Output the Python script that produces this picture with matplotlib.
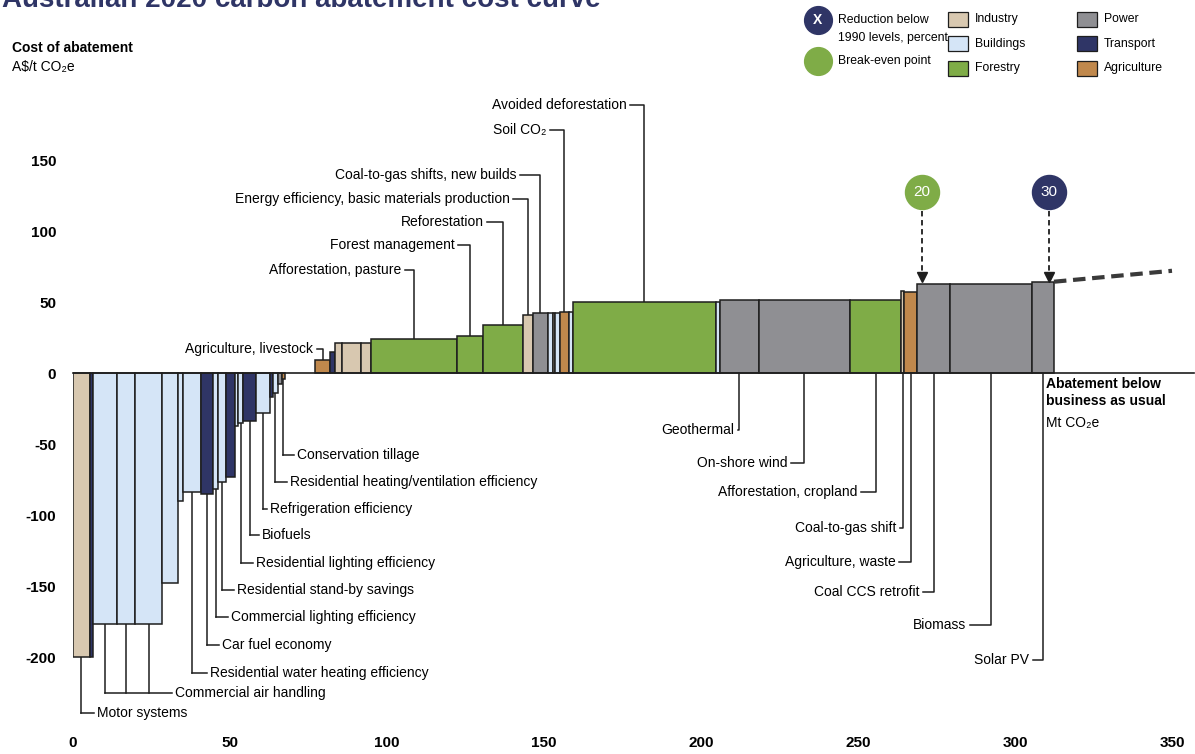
import numpy as np
import matplotlib
matplotlib.use('Agg')
import matplotlib.pyplot as plt
from matplotlib.patches import Rectangle

plt.rcParams['font.family'] = ['Liberation Sans Narrow', 'Liberation Sans', 'DejaVu Sans']
plt.rcParams['axes.unicode_minus'] = False

# sector colours
colors = {'Industry': '#d8c8b0', 'Buildings': '#d5e5f7', 'Forestry': '#7fac47',
          'Power': '#8f8f93', 'Transport': '#2f3566', 'Agriculture': '#c0884c'}

# abatement levers, left to right (width in Mt CO2e, cost in A$/t CO2e)
names = ['Motor systems', '', 'Commercial air handling', 'Commercial air handling', 'Commercial air handling',
         '', '', 'Residential water heating efficiency', 'Car fuel economy', 'Commercial lighting efficiency',
         'Residential stand-by savings', '', '', 'Residential lighting efficiency', 'Biofuels',
         'Refrigeration efficiency', '', 'Residential heating/ventilation efficiency', '', 'Conservation tillage',
         '',
         'Agriculture, livestock', '', '', '', '', 'Afforestation, pasture', 'Forest management',
         'Reforestation', 'Energy efficiency, basic materials production', 'Coal-to-gas shifts, new builds',
         '', '', '', 'Soil CO\u2082', '', 'Avoided deforestation', '', 'Geothermal', 'On-shore wind',
         'Afforestation, cropland', 'Coal-to-gas shift', 'Agriculture, waste', 'Coal CCS retrofit',
         'Biomass', 'Solar PV']
sectors = ['Industry', 'Transport', 'Buildings', 'Buildings', 'Buildings',
           'Buildings', 'Buildings', 'Buildings', 'Transport', 'Buildings',
           'Buildings', 'Transport', 'Buildings', 'Buildings', 'Transport',
           'Buildings', 'Transport', 'Buildings', 'Power', 'Agriculture',
           '',
           'Agriculture', 'Transport', 'Industry', 'Industry', 'Industry', 'Forestry', 'Forestry',
           'Forestry', 'Industry', 'Power',
           'Buildings', 'Industry', 'Buildings', 'Agriculture', 'Buildings', 'Forestry', 'Buildings',
           'Power', 'Power',
           'Forestry', 'Industry', 'Agriculture', 'Power',
           'Power', 'Power']
widths = [5.4, 1.05, 7.6, 5.65, 8.8,
          4.95, 1.6, 5.85, 3.7, 1.6,
          2.65, 2.65, 1.05, 1.6, 4.25,
          4.25, 1.05, 1.5, 1.3, 1.0,
          9.7,
          4.75, 1.4, 2.45, 5.8, 3.4, 27.25, 8.25,
          12.95, 2.95, 4.8,
          1.6, 0.85, 1.3, 2.95, 1.3, 45.6, 1.3,
          12.3, 29.1,
          16.2, 1.05, 4.0, 10.6,
          26.0, 7.15]
costs = [-200, -200, -177, -177, -177,
         -148, -90, -84, -85, -82,
         -77, -73, -37, -35, -34,
         -28, -17, -14, -8, -4,
         0,
         9, 15, 21, 21, 21, 24, 26,
         34, 41, 42.5,
         42, 42, 42, 43, 43, 50, 50,
         51.5, 51.5,
         51.5, 58, 57, 63,
         63, 64]

# reduction markers
marker_labels = ['20', '30']
marker_x = [270.4, 310.8]
marker_colors = ['#7fac47', '#2f3566']
# extension of the curve beyond the chart
trend_x = [312.4, 350]
trend_y = [64.3, 72]

# label layout (data coords): top = text right end above bars, left = text start below, right = text end below
label_top = {'Agriculture, livestock': (76.4, 17), 'Afforestation, pasture': (104.4, 72.5),
             'Forest management': (121.5, 90), 'Reforestation': (130.8, 106.3),
             'Energy efficiency, basic materials production': (139.0, 122.5),
             'Coal-to-gas shifts, new builds': (141.3, 139.4), 'Soil CO\u2082': (150.8, 171),
             'Avoided deforestation': (176.3, 188.7)}
label_left = {'Conservation tillage': (71.3, -57.7),
              'Residential heating/ventilation efficiency': (69.0, -76.8),
              'Refrigeration efficiency': (62.7, -95.8), 'Biofuels': (60.1, -114.1),
              'Residential lighting efficiency': (58.2, -133.8), 'Residential stand-by savings': (52.2, -152.8),
              'Commercial lighting efficiency': (50.3, -171.8), 'Car fuel economy': (47.4, -191.5),
              'Residential water heating efficiency': (43.6, -211.3), 'Commercial air handling': (32.5, -225.4),
              'Motor systems': (7.6, -239.4)}
label_right = {'Geothermal': (210.6, -40.1), 'On-shore wind': (227.5, -63.4),
               'Afforestation, cropland': (249.8, -83.8), 'Coal-to-gas shift': (262.2, -109.2),
               'Agriculture, waste': (261.9, -133.1), 'Coal CCS retrofit': (269.5, -154.2),
               'Biomass': (284.4, -177.5), 'Solar PV': (304.5, -202.1)}

fig = plt.figure(figsize=(11.95, 7.54), dpi=100)
ax = fig.add_axes([73 / 1195, 26 / 754, 1099 / 1195, 633 / 754])
ax.set_xlim(0, 350)
ax.set_ylim(-250, 195.8)
for s in ax.spines.values():
    s.set_visible(False)

lefts = np.concatenate([[0], np.cumsum(widths)[:-1]])
centers = lefts + np.array(widths) / 2
for l, w, c, sec in zip(lefts, widths, costs, sectors):
    if c == 0:
        continue
    ax.bar(l, c, w, align='edge', color=colors[sec], edgecolor='#1e1e1e', linewidth=1.1, zorder=3)

ax.axhline(0, xmin=0, xmax=1.02, color='#1e1e1e', lw=1.2, zorder=4, clip_on=False)

lk = dict(color='#1e1e1e', lw=1.1, zorder=2, clip_on=False)
fs = 10
for name, (tx, ty) in label_top.items():
    i = names.index(name)
    ax.plot([tx + 1.2, centers[i], centers[i]], [ty, ty, costs[i]], **lk)
    ax.text(tx, ty, name, ha='right', va='center', fontsize=fs)
for name, (tx, ty) in label_left.items():
    idx = [i for i, n in enumerate(names) if n == name]
    for i in idx:
        ax.plot([centers[i], centers[i]], [costs[i], ty], **lk)
    ax.plot([centers[idx[0]], tx - 1.0], [ty, ty], **lk)
    ax.text(tx, ty, name, ha='left', va='center', fontsize=fs)
for name, (tx, ty) in label_right.items():
    i = names.index(name)
    ax.plot([centers[i], centers[i], tx + 1.2], [0, ty, ty], **lk)
    ax.text(tx, ty, name, ha='right', va='center', fontsize=fs)

# break-even / reduction markers
for lab, mx, mc in zip(marker_labels, marker_x, marker_colors):
    ax.scatter([mx], [127.5], s=600, color=mc, zorder=5, clip_on=False)
    ax.text(mx, 127.5, lab, color='white', ha='center', va='center', fontsize=11, zorder=6)
    ax.plot([mx, mx], [114, 70], color='#1e1e1e', lw=1.3, ls=(0, (3, 2)), zorder=5)
    ax.plot([mx], [67.5], marker='v', color='#1e1e1e', markersize=7, zorder=5)

ax.plot(trend_x, trend_y, color='#3a3a3a', lw=3, ls=(0, (3, 1.6)), zorder=3, clip_on=False)

ax.set_xticks(np.arange(0, 351, 50))
ax.set_yticks(np.arange(-200, 151, 50))
ax.tick_params(length=0, labelsize=11)
ax.tick_params(axis='x', pad=6)
ax.tick_params(axis='y', pad=12)
for t in ax.get_xticklabels() + ax.get_yticklabels():
    t.set_fontweight('bold')

ax.text(310, -3, 'Abatement below\nbusiness as usual', ha='left', va='top', fontsize=10,
        fontweight='bold', linespacing=1.25)
ax.text(310, -30, 'Mt CO\u2082e', ha='left', va='top', fontsize=10)

# header and legend in pixel coordinates
ov = fig.add_axes([0, 0, 1, 1], zorder=-1)
ov.set_xlim(0, 1195)
ov.set_ylim(754, 0)
ov.axis('off')
ov.text(2, 7, 'Australian 2020 carbon abatement cost curve', color='#2f3566', fontsize=20,
        fontweight='bold', ha='left', va='baseline')
ov.text(12, 48, 'Cost of abatement', fontsize=10, fontweight='bold', va='center')
ov.text(12, 67, 'A$/t CO\u2082e', fontsize=10, va='center')

lfs = 8.8
ov.scatter([818], [20], s=400, color='#2f3566')
ov.text(818, 20, 'X', color='white', ha='center', va='center', fontsize=10, fontweight='bold')
ov.text(838, 20, 'Reduction below', fontsize=lfs, va='center')
ov.text(838, 38, '1990 levels, percent', fontsize=lfs, va='center')
ov.scatter([818], [61], s=400, color='#7fac47')
ov.text(838, 61, 'Break-even point', fontsize=lfs, va='center')
legend_cols = [['Industry', 'Buildings', 'Forestry'], ['Power', 'Transport', 'Agriculture']]
for col, lx in zip(legend_cols, [948, 1077]):
    for j, sec in enumerate(col):
        yy = 19 + 24.5 * j
        ov.add_patch(Rectangle((lx, yy - 7.5), 20, 15, facecolor=colors[sec], edgecolor='#1e1e1e', lw=0.9))
        ov.text(lx + 27, yy, sec, fontsize=lfs, va='center')

fig.savefig('out.png', dpi=100)
